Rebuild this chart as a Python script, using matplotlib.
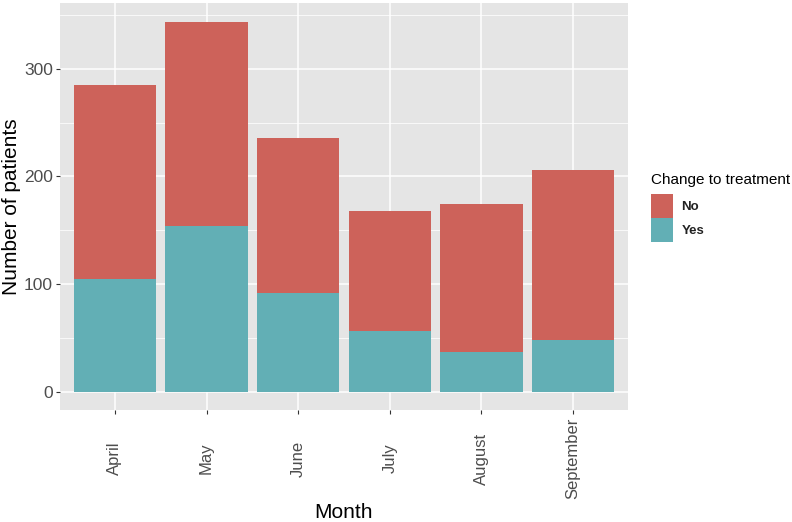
import numpy as np
import matplotlib
matplotlib.use("Agg")
import matplotlib.pyplot as plt
from matplotlib.patches import Patch

# data
months = ["April", "May", "June", "July", "August", "September"]
yes_counts = [105, 154, 92, 56, 37, 48]
no_counts = [180, 190, 144, 112, 137, 158]
legend_labels = ["No", "Yes"]
legend_title = "Change to treatment"

red = "#CD625A"
teal = "#62AFB5"
panel_bg = "#E5E5E5"

plt.rcParams["font.family"] = ["Liberation Sans", "DejaVu Sans"]

fig = plt.figure(figsize=(7.92, 5.22), dpi=100)
ax = fig.add_axes([60 / 792, 1 - 410 / 522, 568 / 792, 407 / 522])
ax.set_facecolor(panel_bg)

x = np.arange(1, len(months) + 1)
yes = np.array(yes_counts)
no = np.array(no_counts)
ax.bar(x, yes, width=0.9, color=teal, zorder=3)
ax.bar(x, no, width=0.9, bottom=yes, color=red, zorder=3)

# ggplot-like expansion
total = yes + no
ymax = total.max()
ax.set_ylim(-0.05 * ymax, ymax * 1.05)
ax.set_xlim(0.4, len(months) + 0.6)

ax.set_yticks([0, 100, 200, 300])
ax.set_yticks([50, 150, 250, 350], minor=True)
ax.set_xticks(x)
ax.set_xticklabels(months)

ax.grid(which="major", color="white", linewidth=1.1, zorder=0)
ax.grid(which="minor", axis="y", color="white", linewidth=0.55, zorder=0)
ax.set_axisbelow(True)
for s in ax.spines.values():
    s.set_visible(False)

ax.tick_params(axis="y", which="major", length=3, width=0.8, color="#333333",
               labelsize=12.5, labelcolor="#4D4D4D", pad=2)
ax.tick_params(axis="y", which="minor", length=0)
ax.tick_params(axis="x", length=3, width=0.8, color="#333333",
               labelsize=12, labelcolor="#4D4D4D", pad=32)
for lbl in ax.get_xticklabels():
    lbl.set_rotation(90)
    lbl.set_va("center")
    lbl.set_ha("center")

ax.set_ylabel("Number of patients", fontsize=15, color="black", labelpad=2)
ax.set_xlabel("Month", fontsize=15, color="black", labelpad=3)

handles = [Patch(facecolor=red, edgecolor="none"), Patch(facecolor=teal, edgecolor="none")]
leg = fig.legend(handles, legend_labels, title=legend_title,
                 loc="upper left", bbox_to_anchor=(651 / 792, 1 - 173 / 522),
                 frameon=False, borderpad=0, borderaxespad=0,
                 handlelength=1.7, handleheight=2.4, handletextpad=0.6,
                 labelspacing=0.05, alignment="left",
                 prop={"size": 9.5, "weight": "bold"}, title_fontsize=11)
leg._legend_box.sep = 5
leg.get_title().set_color("black")
for t in leg.get_texts():
    t.set_color("#222222")

fig.savefig("out.png", dpi=100)
